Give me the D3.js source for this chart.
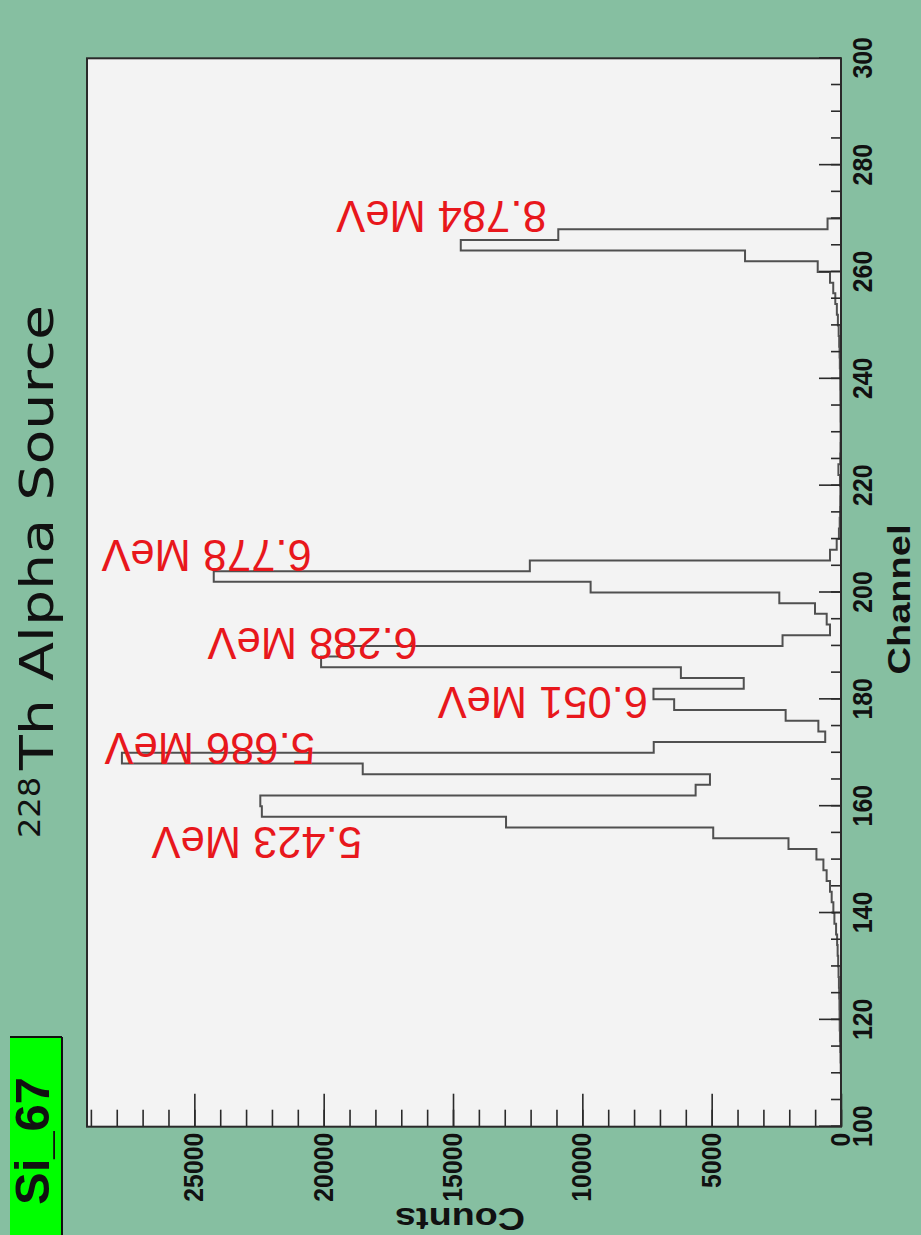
<!DOCTYPE html>
<html>
<head>
<meta charset="utf-8">
<script src="https://cdn.jsdelivr.net/npm/d3@7"></script>
<style>
  html, body { margin: 0; padding: 0; background: #86bfa1; }
  svg { display: block; }
</style>
</head>
<body>
<svg id="chart" width="921" height="1235"></svg>
<script>
// Bin start channels (each bin is 2 channels wide)
const channels = [
  100,102,104,106,108,110,112,114,116,118,
  120,122,124,126,128,130,132,134,136,138,
  140,142,144,146,148,150,152,154,156,158,
  160,162,164,166,168,170,172,174,176,178,
  180,182,184,186,188,190,192,194,196,198,
  200,202,204,206,208,210,212,214,216,218,
  220,222,224,226,228,230,232,234,236,238,
  240,242,244,246,248,250,252,254,256,258,
  260,262,264,266,268,270,272,274,276,278,
  280,282,284,286,288,290,292,294,296,298
];
// Counts per bin
const counts = [
  0,0,0,0,0,10,20,30,40,50,
  55,60,70,80,95,110,130,150,190,255,
  295,360,425,555,680,950,2030,4940,12950,22390,
  22450,5620,5066,18490,27800,7240,610,875,2140,6450,
  7250,3760,6190,20100,19400,2260,425,553,1005,2385,
  9680,24250,12030,425,166,80,50,35,30,25,
  40,100,30,20,15,15,20,20,25,30,
  35,45,55,70,90,120,160,220,300,425,
  900,3710,14700,10930,520,0,0,0,0,0,
  0,0,0,0,0,0,0,0,0,0
];
const binWidth = 2;

// Axis ticks
const channelTicks = [100,120,140,160,180,200,220,240,260,280,300];
const countTicks = [0,5000,10000,15000,20000,25000];

// Peak annotations: text, channel of the text baseline, count where the text starts
const peakLabels = ["5.423 MeV","5.686 MeV","6.051 MeV","6.288 MeV","6.778 MeV","8.784 MeV"];
const peakLabelChannels = [156.1,173.7,182.3,193.4,209.8,273.2];
const peakLabelCounts = [18520,20340,7460,16360,20460,11380];

const titleMain = "Th Alpha Source";
const titleIsotope = "228";
const detectorName = "Si_67";

// ---- drawing ----
const W = 1235, H = 921; // chart laid out landscape, then turned to portrait
const svg = d3.select("#chart");
svg.append("rect").attr("width", 921).attr("height", 1235).attr("fill", "#86bfa1");

const g = svg.append("g").attr("transform", `translate(0,${W}) rotate(-90)`);

const plot = { left: 108.3, right: 1176.7, top: 87, bottom: 841 };
const x = d3.scaleLinear().domain([100, 300]).range([plot.left, plot.right]);
const y = d3.scaleLinear().domain([0, 29150]).range([plot.bottom, plot.top]);

// plot background
g.append("rect")
  .attr("x", plot.left).attr("y", plot.top)
  .attr("width", plot.right - plot.left).attr("height", plot.bottom - plot.top)
  .attr("fill", "#f3f3f3");

// histogram outline
const pts = channels.map((c, i) => ({ ch: c, v: counts[i] }));
pts.push({ ch: channels[channels.length - 1] + binWidth, v: counts[counts.length - 1] });
const line = d3.line().x(d => x(d.ch)).y(d => y(d.v)).curve(d3.curveStepAfter);
g.append("path")
  .attr("d", line(pts))
  .attr("fill", "none")
  .attr("stroke", "#505050")
  .attr("stroke-width", 2);

// channel axis (bottom of the landscape layout)
const tickColor = "#2a2a2a";
const xMinor = g.append("g").attr("transform", `translate(0,${plot.bottom})`)
  .call(d3.axisBottom(x).tickValues(d3.range(100, 301, 5)).tickSizeInner(-10).tickSizeOuter(0).tickFormat(""));
const xMajor = g.append("g").attr("transform", `translate(0,${plot.bottom})`)
  .call(d3.axisBottom(x).tickValues(channelTicks).tickSizeInner(-22).tickSizeOuter(0).tickPadding(12));
[xMinor, xMajor].forEach(a => {
  a.select(".domain").remove();
  a.selectAll("line").attr("stroke", tickColor).attr("stroke-width", 1.6);
});
xMajor.selectAll("text")
  .attr("fill", "#111").attr("font-family", "Liberation Sans, Arial, sans-serif")
  .attr("font-weight", "bold").attr("font-size", 27)
  .attr("textLength", 41.5).attr("lengthAdjust", "spacingAndGlyphs");

// counts axis (left of the landscape layout)
const yMinor = g.append("g").attr("transform", `translate(${plot.left},0)`)
  .call(d3.axisLeft(y).tickValues(d3.range(0, 29001, 1000)).tickSizeInner(-17).tickSizeOuter(0).tickFormat(""));
const yMajor = g.append("g").attr("transform", `translate(${plot.left},0)`)
  .call(d3.axisLeft(y).tickValues(countTicks).tickSizeInner(-33).tickSizeOuter(0).tickPadding(6).tickFormat(d3.format("d")));
[yMinor, yMajor].forEach(a => {
  a.select(".domain").remove();
  a.selectAll("line").attr("stroke", tickColor).attr("stroke-width", 1.6);
});
yMajor.selectAll("text")
  .attr("fill", "#111").attr("font-family", "Liberation Sans, Arial, sans-serif")
  .attr("font-weight", "bold").attr("font-size", 27)
  .attr("textLength", d => String(d).length * 13.8).attr("lengthAdjust", "spacingAndGlyphs");

// frame
g.append("rect")
  .attr("x", plot.left).attr("y", plot.top)
  .attr("width", plot.right - plot.left).attr("height", plot.bottom - plot.top)
  .attr("fill", "none").attr("stroke", "#2a2a2a").attr("stroke-width", 2);

// axis titles
g.append("text")
  .attr("x", (plot.left + plot.right) / 2 - 7).attr("y", 910)
  .attr("text-anchor", "middle")
  .attr("font-family", "Liberation Sans, Arial, sans-serif").attr("font-weight", "bold")
  .attr("font-size", 31).attr("fill", "#111")
  .attr("textLength", 150).attr("lengthAdjust", "spacingAndGlyphs")
  .text("Channel");

g.append("text")
  .attr("transform", `translate(27,${(plot.top + plot.bottom) / 2 - 4}) rotate(-90)`)
  .attr("text-anchor", "middle")
  .attr("font-family", "Liberation Sans, Arial, sans-serif").attr("font-weight", "bold")
  .attr("font-size", 31).attr("fill", "#111")
  .attr("textLength", 130).attr("lengthAdjust", "spacingAndGlyphs")
  .text("Counts");

// title
g.append("text")
  .attr("x", 397).attr("y", 40)
  .attr("font-family", "DejaVu Sans, sans-serif").attr("font-size", 31).attr("fill", "#111")
  .attr("textLength", 61).attr("lengthAdjust", "spacingAndGlyphs")
  .text(titleIsotope);
g.append("text")
  .attr("x", 465).attr("y", 53)
  .attr("font-family", "DejaVu Sans, sans-serif").attr("font-size", 46).attr("fill", "#111")
  .attr("textLength", 465).attr("lengthAdjust", "spacingAndGlyphs")
  .text(titleMain);

// detector tag
g.append("rect").attr("x", 0).attr("y", 10).attr("width", 198).attr("height", 52).attr("fill", "#00ff00");
g.append("line").attr("x1", 198).attr("x2", 198).attr("y1", 10).attr("y2", 62).attr("stroke", "#111").attr("stroke-width", 2);
g.append("line").attr("x1", 0).attr("x2", 198).attr("y1", 62).attr("y2", 62).attr("stroke", "#111").attr("stroke-width", 2);
g.append("text")
  .attr("x", 30).attr("y", 49)
  .attr("font-family", "Liberation Sans, Arial, sans-serif").attr("font-weight", "bold")
  .attr("font-size", 48).attr("fill", "#111")
  .attr("textLength", 128).attr("lengthAdjust", "spacingAndGlyphs")
  .text(detectorName);

// peak annotations
g.selectAll(".peak")
  .data(peakLabels)
  .join("text")
  .attr("class", "peak")
  .attr("transform", (d, i) => `translate(${x(peakLabelChannels[i])},${y(peakLabelCounts[i])}) rotate(-90)`)
  .attr("font-family", "Liberation Sans, Arial, sans-serif")
  .attr("font-size", 43.5).attr("fill", "#e8171c")
  .text(d => d);
</script>
</body>
</html>
